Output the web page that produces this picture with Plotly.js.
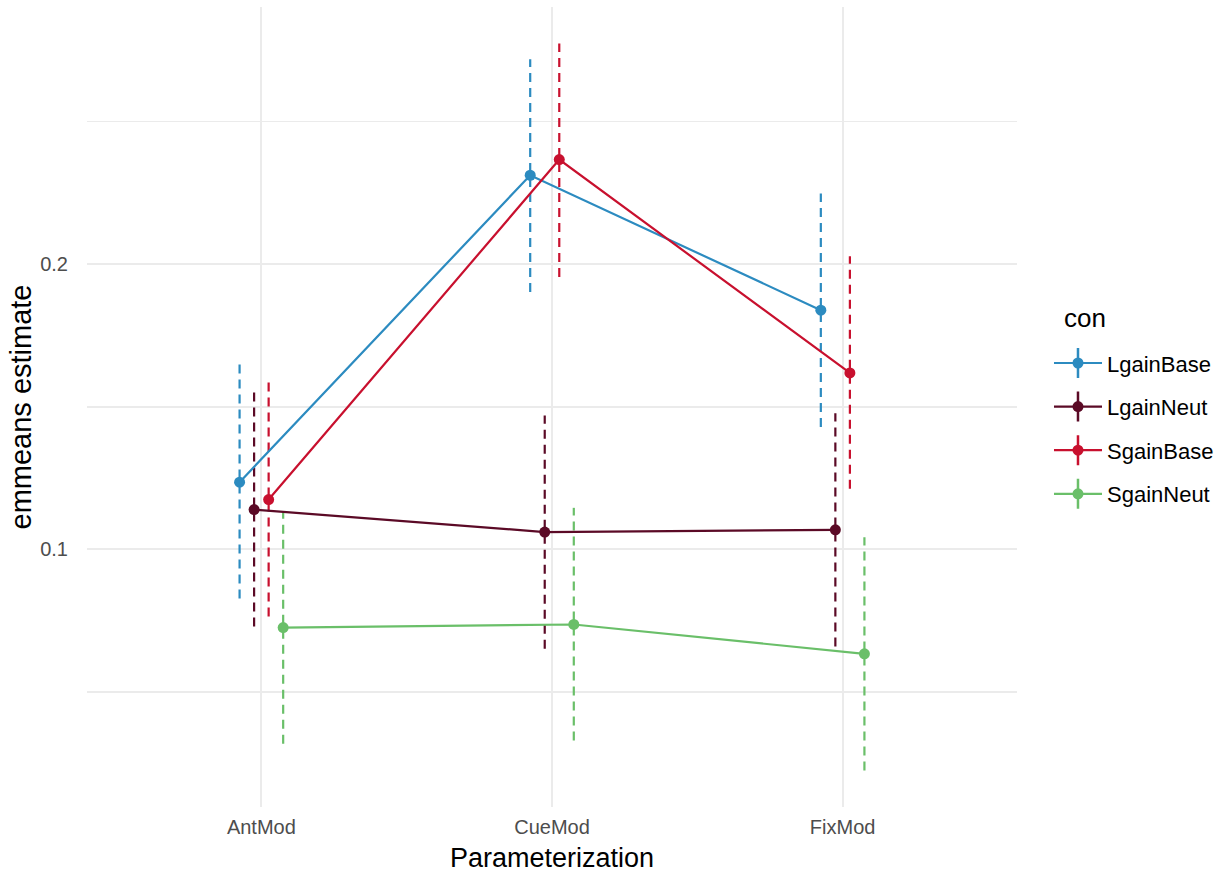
<!DOCTYPE html>
<html>
<head>
<meta charset="utf-8">
<script src="https://cdn.plot.ly/plotly-3.0.1.min.js"></script>
<style>html,body{margin:0;padding:0;background:#fff;}#chart{width:1228px;height:873px;}</style>
</head>
<body>
<div id="chart"></div>
<script>
// categories
const categories = ["AntMod", "CueMod", "FixMod"];
const seriesNames = ["LgainBase", "LgainNeut", "SgainBase", "SgainNeut"];
// estimates per series (AntMod, CueMod, FixMod)
const LgainBase = [0.1236, 0.2312, 0.1839];
const LgainNeut = [0.1140, 0.1061, 0.1069];
const SgainBase = [0.1175, 0.2367, 0.1619];
const SgainNeut = [0.0726, 0.0737, 0.0634];
// confidence limits
const LgainBaseLo = [0.0828, 0.1903, 0.1429];
const LgainBaseHi = [0.1649, 0.2719, 0.2248];
const LgainNeutLo = [0.0730, 0.0652, 0.0660];
const LgainNeutHi = [0.1551, 0.1470, 0.1478];
const SgainBaseLo = [0.0765, 0.1955, 0.1213];
const SgainBaseHi = [0.1586, 0.2774, 0.2028];
const SgainNeutLo = [0.0319, 0.0330, 0.0225];
const SgainNeutHi = [0.1133, 0.1146, 0.1043];

const est = [LgainBase, LgainNeut, SgainBase, SgainNeut];
const lo = [LgainBaseLo, LgainNeutLo, SgainBaseLo, SgainNeutLo];
const hi = [LgainBaseHi, LgainNeutHi, SgainBaseHi, SgainNeutHi];
const colors = ["#2C8BC0", "#5B0A26", "#C8102E", "#6ABF69"];

// position_dodge(width = 0.2) for 4 groups
const dodgeWidth = 0.2;
const nG = seriesNames.length;
const offsets = seriesNames.map((_, i) => (i - (nG - 1) / 2) * dodgeWidth / nG);

const traces = [];
// error bars (dashed)
seriesNames.forEach((name, i) => {
  const xs = [], ys = [];
  categories.forEach((c, j) => {
    const x = j + 1 + offsets[i];
    xs.push(x, x, null);
    ys.push(lo[i][j], hi[i][j], null);
  });
  traces.push({
    x: xs, y: ys, type: "scatter", mode: "lines",
    line: {color: colors[i], width: 2.2, dash: "9px,6px"},
    showlegend: false, hoverinfo: "skip", legendgroup: name
  });
});
// lines + points
seriesNames.forEach((name, i) => {
  traces.push({
    x: categories.map((c, j) => j + 1 + offsets[i]),
    y: est[i], name: name, type: "scatter", mode: "lines+markers",
    line: {color: colors[i], width: 2.2},
    marker: {color: colors[i], size: 11},
    legendgroup: name
  });
});

const font = "Liberation Sans, Arial, Helvetica, sans-serif";
const layout = {
  width: 1228, height: 873,
  margin: {l: 87, r: 211, t: 7, b: 66},
  paper_bgcolor: "#ffffff", plot_bgcolor: "#ffffff",
  font: {family: font, color: "#000"},
  xaxis: {
    range: [0.4, 3.6],
    tickvals: [1, 2, 3], ticktext: categories,
    showgrid: true, gridcolor: "#EBEBEB", gridwidth: 2,
    zeroline: false, showline: false, ticks: "",
    ticklabelstandoff: 6,
    tickfont: {family: font, size: 20, color: "#4D4D4D"},
    title: {text: "Parameterization", font: {family: font, size: 27, color: "#000"}, standoff: 11}
  },
  yaxis: {
    range: [0.00971, 0.29019],
    tick0: 0, dtick: 0.1,
    showgrid: true, gridcolor: "#EBEBEB", gridwidth: 2,
    minor: {tick0: 0, dtick: 0.05, showgrid: true, gridcolor: "#EBEBEB", gridwidth: 1.5, ticks: ""},
    zeroline: false, showline: false, ticks: "",
    ticklabelstandoff: 18,
    tickfont: {family: font, size: 20, color: "#4D4D4D"},
    title: {text: "emmeans estimate", font: {family: font, size: 29, color: "#000"}, standoff: 0}
  },
  legend: {
    x: 1.0344, xanchor: "left", y: 0.581, yanchor: "top",
    font: {family: font, size: 22, color: "#000"},
    itemwidth: 48,
    tracegroupgap: 12, bgcolor: "rgba(0,0,0,0)"
  },
  annotations: [{
    text: "con", xref: "paper", yref: "paper", x: 1.0484, y: 0.611,
    xanchor: "left", yanchor: "middle", showarrow: false,
    font: {family: font, size: 26, color: "#000"}
  }],
  showlegend: true
};

Plotly.newPlot("chart", traces, layout, {displayModeBar: false, staticPlot: true}).then(function (gd) {
  // add the vertical errorbar glyph to each legend key, as ggplot does
  const ns = "http://www.w3.org/2000/svg";
  gd.querySelectorAll(".legend .traces").forEach(function (tr) {
    const linePath = tr.querySelector(".legendlines path");
    const pts = tr.querySelector(".legendpoints");
    if (!linePath || !pts) return;
    const bb = linePath.getBBox();
    const cx = bb.x + bb.width / 2;
    const color = linePath.style.stroke || "#000";
    const ln = document.createElementNS(ns, "line");
    ln.setAttribute("x1", cx); ln.setAttribute("x2", cx);
    ln.setAttribute("y1", -15); ln.setAttribute("y2", 15);
    ln.setAttribute("stroke", color);
    ln.setAttribute("stroke-width", 2.5);
    pts.insertBefore(ln, pts.firstChild);
  });
});
</script>
</body>
</html>
